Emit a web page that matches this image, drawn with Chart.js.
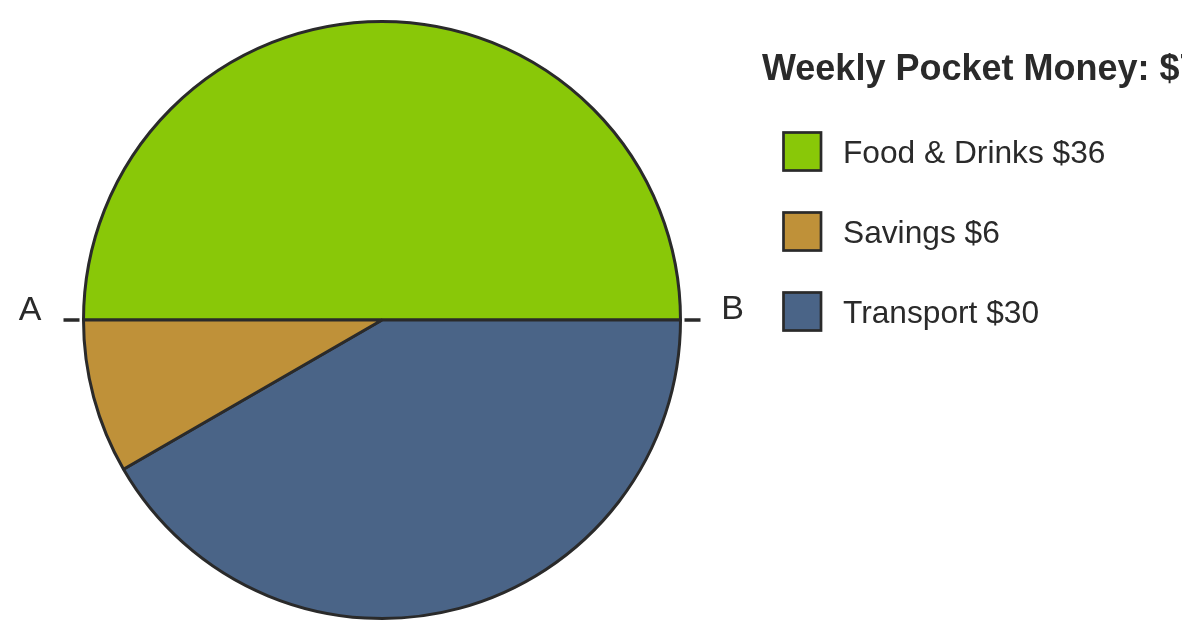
<!DOCTYPE html>
<html>
<head>
<meta charset="utf-8">
<script src="https://cdn.jsdelivr.net/npm/chart.js@4/dist/chart.umd.min.js"></script>
<style>
  body { margin: 0; background: #fff; }
  #wrap { width: 1200px; height: 640px; position: relative; }
</style>
</head>
<body>
<div id="wrap"><canvas id="pie"></canvas></div>
<script>
// legend order
var categories = ["Food & Drinks", "Savings", "Transport"];
var amounts = [36, 6, 30];
var sliceColors = ["#89c808", "#bf9139", "#4a6487"];
// order slices are laid out clockwise, starting at A
var drawOrder = [0, 2, 1];
var chartTitle = "Weekly Pocket Money: $72";
var endLabels = ["A", "B"];

var ink = "#2a2a2a";
var fontFamily = "'Liberation Sans', Arial, sans-serif";

var sideLegend = {
    id: "sideLegend",
    afterDraw: function(chart){
        var ctx = chart.ctx;
        ctx.save();
        ctx.beginPath();
        ctx.rect(0, 0, 1182, 640);
        ctx.clip();
        ctx.fillStyle = ink;
        ctx.textBaseline = "alphabetic";
        ctx.font = "bold 36px " + fontFamily;
        ctx.fillText(chartTitle, 762, 80);
        ctx.restore();

        ctx.save();
        ctx.font = "31.7px " + fontFamily;
        ctx.textBaseline = "alphabetic";
        for(var i=0;i<categories.length;i++){
            var y = 131 + i*80;
            ctx.fillStyle = sliceColors[i];
            ctx.fillRect(783.5, y + 1.5, 37.5, 38);
            ctx.strokeStyle = ink;
            ctx.lineWidth = 2.7;
            ctx.strokeRect(783.5, y + 1.5, 37.5, 38);
            ctx.fillStyle = ink;
            ctx.fillText(categories[i] + " $" + amounts[i], 843, y + 32);
        }
        ctx.restore();
    }
};

var endMarks = {
    id: "endMarks",
    afterDraw: function(chart){
        var arc = chart.getDatasetMeta(0).data[0];
        var cx = arc.x, cy = arc.y, r = arc.outerRadius;
        var ctx = chart.ctx;
        ctx.save();
        ctx.strokeStyle = ink;
        ctx.lineWidth = 3.5;
        ctx.beginPath();
        ctx.moveTo(cx - r - 20, cy); ctx.lineTo(cx - r - 4, cy);
        ctx.moveTo(cx + r + 4, cy); ctx.lineTo(cx + r + 20, cy);
        ctx.stroke();
        ctx.fillStyle = ink;
        ctx.font = "34px " + fontFamily;
        ctx.textAlign = "center";
        ctx.textBaseline = "alphabetic";
        ctx.fillText(endLabels[0], 30, cy);
        ctx.fillText(endLabels[1], cx + r + 52, cy - 1);
        ctx.restore();
    }
};

new Chart(document.querySelector("#pie"), {
    type: "pie",
    data: {
        labels: drawOrder.map(function(i){ return categories[i]; }),
        datasets: [{
            data: drawOrder.map(function(i){ return amounts[i]; }),
            backgroundColor: drawOrder.map(function(i){ return sliceColors[i]; }),
            borderColor: ink,
            borderWidth: 3
        }]
    },
    options: {
        responsive: true,
        maintainAspectRatio: false,
        animation: false,
        rotation: -90,
        layout: { padding: { left: 82, right: 518, top: 20, bottom: 20 } },
        plugins: {
            legend: { display: false },
            tooltip: { enabled: false }
        }
    },
    plugins: [sideLegend, endMarks]
});
</script>
</body>
</html>
